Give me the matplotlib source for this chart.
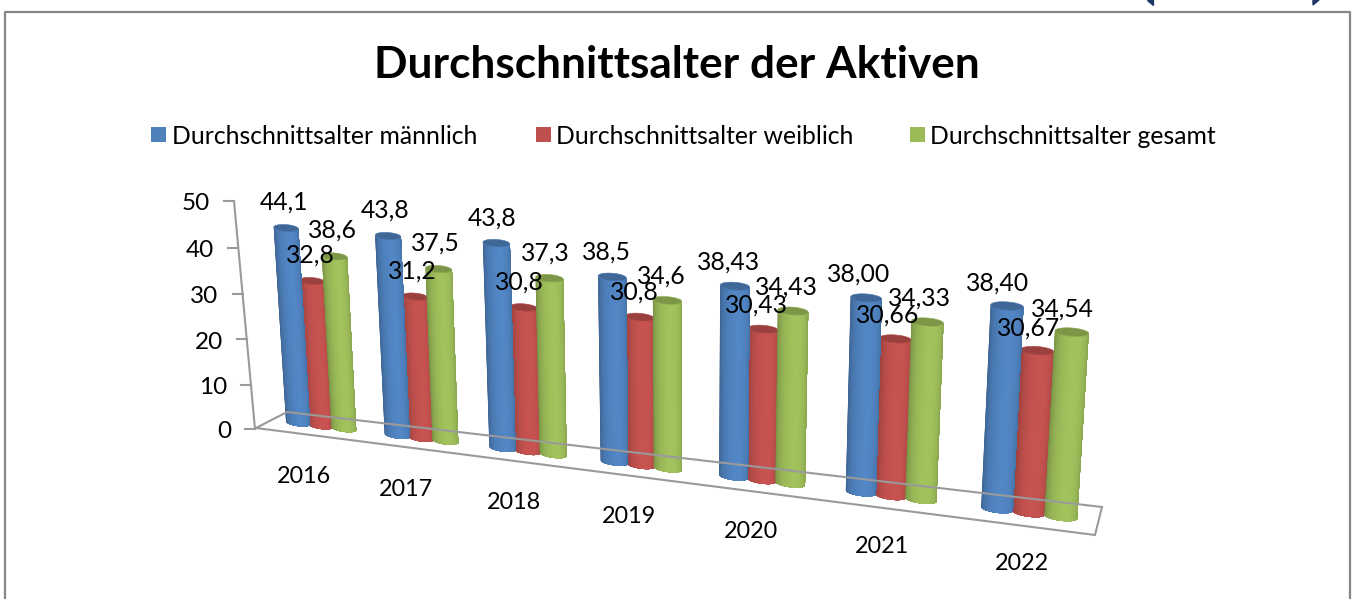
import numpy as np
import matplotlib
matplotlib.use("Agg")
import matplotlib.pyplot as plt
import matplotlib.transforms as mtransforms
from matplotlib.collections import PolyCollection
from matplotlib.patches import Polygon, Rectangle
from matplotlib.colors import to_rgb

years = ["2016", "2017", "2018", "2019", "2020", "2021", "2022"]
maennlich = [44.1, 43.8, 43.8, 38.5, 38.43, 38.00, 38.40]
weiblich = [32.8, 31.2, 30.8, 30.8, 30.43, 30.66, 30.67]
gesamt = [38.6, 37.5, 37.3, 34.6, 34.43, 34.33, 34.54]
maennlich_text = ["44,1", "43,8", "43,8", "38,5", "38,43", "38,00", "38,40"]
weiblich_text = ["32,8", "31,2", "30,8", "30,8", "30,43", "30,66", "30,67"]
gesamt_text = ["38,6", "37,5", "37,3", "34,6", "34,43", "34,33", "34,54"]
legend_names = ["Durchschnittsalter männlich", "Durchschnittsalter weiblich", "Durchschnittsalter gesamt"]
y_ticks = [0, 10, 20, 30, 40, 50]

blue = "#4F81BD"
red = "#C0504D"
green = "#9BBB59"
grey = "#9A9A9A"
FONT = "Lato"
CAP = 0.75


def step(i):
    return 0.235 - 0.012 * i / 6


def bar_width(i):
    return 0.25 - 0.025 * i / 6


class Perspective(mtransforms.Transform):
    # maps (x, value) onto the tilted picture plane
    input_dims = 2
    output_dims = 2

    def __init__(self, src, dst):
        super().__init__()
        a = []
        b = []
        for (x, y), (u, v) in zip(src, dst):
            a.append([x, y, 1, 0, 0, 0, -u * x, -u * y])
            a.append([0, 0, 0, x, y, 1, -v * x, -v * y])
            b += [u, v]
        self.h = np.append(np.linalg.solve(np.array(a, float), np.array(b, float)), 1).reshape(3, 3)

    def transform_non_affine(self, xy):
        xy = np.asarray(xy, float)
        p = np.column_stack([xy, np.ones(len(xy))]) @ self.h.T
        return p[:, :2] / p[:, 2:]


def draw_cylinder(ax, trans, xc, width, value, color):
    base = np.array(to_rgb(color))
    th = np.linspace(-np.pi / 2, np.pi / 2, 41)
    xs = xc + width / 2 * np.sin(th)
    low = -CAP * np.cos(th)
    high = value - CAP * np.cos(th)
    polys = []
    colors = []
    # every strip runs to the right edge and the next paints over it, so no seams show
    for k in range(len(th) - 1):
        polys.append(list(zip(xs[k:], low[k:])) + list(zip(xs[k:][::-1], high[k:][::-1])))
        mid = (th[k] + th[k + 1]) / 2
        shade = 0.80 + 0.24 * np.cos(mid - 0.25)
        colors.append(np.clip(base * shade, 0, 1))
    ax.add_collection(PolyCollection(polys, facecolors=colors, edgecolors="none", transform=trans))
    t = np.linspace(0, 2 * np.pi, 60)
    cap = np.column_stack([xc + width / 2 * np.cos(t), value + CAP * np.sin(t)])
    ax.add_patch(Polygon(cap, closed=True, facecolor=base * 0.8, edgecolor=base * 0.9, linewidth=0.4, transform=trans))


fig = plt.figure(figsize=(13.54, 5.99), dpi=100)
ax = fig.add_axes([0, 0, 1, 1])
ax.set_xlim(0, 1354)
ax.set_ylim(599, 0)
ax.axis("off")

# frame of the slide, open at the bottom
ax.plot([4.5, 4.5, 1349.5, 1349.5], [599, 12, 12, 599], color="#868686", lw=1.6)
ax.add_patch(Polygon([(1147, 0), (1153, 0), (1153, 5)], color="#1F3864"))
ax.add_patch(Polygon([(1313, 0), (1319, 0), (1313, 5)], color="#1F3864"))

ax.text(677, 65, "Durchschnittsalter der Aktiven", ha="center", va="center", fontsize=31.8, fontweight="bold", family=FONT, color="black")

legend_x = [151, 536, 910]
for name, color, lx in zip(legend_names, [blue, red, green], legend_x):
    ax.add_patch(Rectangle((lx, 127), 15, 15, color=color, lw=0))
    ax.text(lx + 20.5, 136, name, ha="left", va="center", fontsize=17.8, family=FONT, color="black")

# calibration of the two planes, picture pixels
bars = Perspective([(-step(0), 0), (-step(0), 44.1), (6 - step(6), 0), (6 - step(6), 38.4)],
                   [(298, 423), (286, 228), (997, 509), (1007, 306)])
wall = Perspective([(0, 0), (0, 50), (-1, 50), (-1, 0)],
                   [(255, 429), (234, 201), (224, 201), (245.3, 429)])
bars_t = bars + ax.transData
wall_t = wall + ax.transData

# floor and wall axis
ax.plot([256, 1095, 1102, 287, 256], [428, 535, 507, 412, 428], color=grey, lw=1.5, solid_joinstyle="miter")
ax.plot([0, 0], [0, 50], color=grey, lw=1.5, transform=wall_t)
for tick in y_ticks:
    ax.plot([-1, 0], [tick, tick], color=grey, lw=1.5, transform=wall_t)
    ax.annotate(str(tick), xy=(-1, tick), xycoords=wall_t, xytext=(-14, -3), textcoords="offset pixels",
                ha="right", va="center", fontsize=17.5, family=FONT, color="black")

# red sits behind its two neighbours
for i in range(len(years)):
    s = step(i)
    w = bar_width(i)
    draw_cylinder(ax, bars_t, i, w, weiblich[i], red)
    draw_cylinder(ax, bars_t, i - s, w, maennlich[i], blue)
    draw_cylinder(ax, bars_t, i + s, w, gesamt[i], green)

for i in range(len(years)):
    s = step(i)
    off = -2 - 7 * i / 6
    series = [(-s, maennlich, maennlich_text), (0, weiblich, weiblich_text), (s, gesamt, gesamt_text)]
    for shift, values, texts in series:
        ax.annotate(texts[i], xy=(i + shift, values[i]), xycoords=bars_t, xytext=(off, 26 - 3 * i / 6), textcoords="offset pixels",
                    ha="center", va="center", fontsize=17.8, family=FONT, color="black", zorder=10)
    ax.annotate(years[i], xy=(i, 0), xycoords=bars_t, xytext=(-17 + 10 * i / 6, -51), textcoords="offset pixels",
                ha="center", va="center", fontsize=16.8, family=FONT, color="black", zorder=10)

fig.savefig("out.png", dpi=100)
